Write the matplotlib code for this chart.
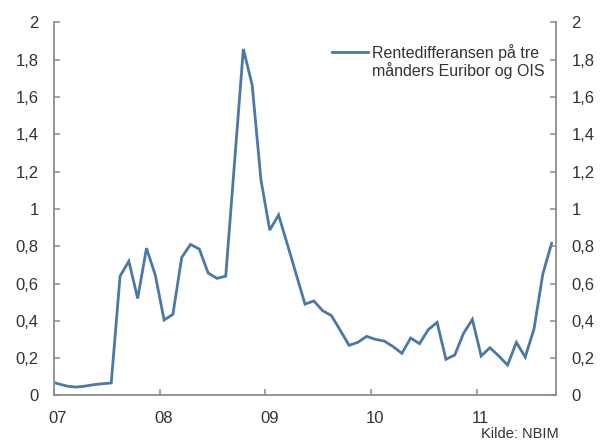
import matplotlib
matplotlib.use("Agg")
import matplotlib.pyplot as plt
from matplotlib.transforms import ScaledTranslation

plt.rcParams['font.family'] = ['Liberation Sans', 'DejaVu Sans']

# Months since Jan 2007 (mid-month positions) and spread in percentage points
months = [0.0, 1.5, 2.5, 3.5, 4.5, 5.5, 6.5,
          7.5, 8.5, 9.5, 10.5, 11.5, 12.5, 13.5, 14.5, 15.5, 16.5, 17.5, 18.5, 19.5,
          20.5, 21.5, 22.5, 23.5, 24.5, 25.5, 26.5, 27.5, 28.5, 29.5, 30.5, 31.5,
          32.5, 33.5, 34.5, 35.5, 36.5, 37.5, 38.5, 39.5, 40.5, 41.5, 42.5, 43.5,
          44.5, 45.5, 46.5, 47.5, 48.5, 49.5, 50.5, 51.5, 52.5, 53.5, 54.5, 55.5, 56.5]
spread = [0.069, 0.050, 0.045, 0.050, 0.058, 0.063, 0.067,
          0.640, 0.720, 0.520, 0.790, 0.646, 0.405, 0.435, 0.740, 0.810, 0.785, 0.657, 0.628, 0.640,
          1.250, 1.858, 1.665, 1.155, 0.887, 0.968, 0.810, 0.650, 0.490, 0.507, 0.455, 0.428,
          0.350, 0.269, 0.285, 0.317, 0.301, 0.292, 0.262, 0.226, 0.308, 0.278, 0.353, 0.392,
          0.194, 0.217, 0.333, 0.408, 0.212, 0.256, 0.212, 0.163, 0.285, 0.206, 0.356, 0.651, 0.816]

year_ticks = [0, 12, 24, 36, 48]
year_labels = ["07", "08", "09", "10", "11"]
y_ticks = [0, 0.2, 0.4, 0.6, 0.8, 1.0, 1.2, 1.4, 1.6, 1.8, 2.0]

label_line1 = "Rentedifferansen på tre"
label_line2 = "månders Euribor og OIS"

line_color = "#4a78a8"
axis_color = "#8c8c8c"
text_color = "#333333"

fig = plt.figure(figsize=(6.02, 4.41), dpi=100)
ax = fig.add_axes([0.0897, 0.1032, 0.8339, 0.8458])

ax.plot(months, spread, color=line_color, lw=2.0, label=label_line1,
        solid_joinstyle="miter")

ax.set_xlim(0, 57)
ax.set_ylim(0, 2)

def fmt(v):
    s = f"{v:.1f}".rstrip("0").rstrip(".")
    return s.replace(".", ",")

ax.set_yticks(y_ticks)
ax.set_yticklabels([fmt(v) for v in y_ticks])
ax.set_xticks(year_ticks)
ax.set_xticklabels(year_labels)

ax.spines['top'].set_visible(False)
for side in ('left', 'right', 'bottom'):
    ax.spines[side].set_color(axis_color)
    ax.spines[side].set_linewidth(1.3)

ax.tick_params(axis='y', direction='in', length=4, width=1.1, color=axis_color,
               labelsize=12, labelcolor=text_color, pad=11,
               left=True, right=True, labelleft=True, labelright=True)
ax.tick_params(axis='x', direction='in', length=4, width=1.1, color=axis_color,
               labelsize=12, labelcolor=text_color, pad=11)

# nudge year labels slightly to the right of their ticks
shift = ScaledTranslation(4 / 100, 0, fig.dpi_scale_trans)
for lbl in ax.get_xticklabels():
    lbl.set_transform(lbl.get_transform() + shift)

leg = ax.legend(loc='upper left', bbox_to_anchor=(0.5535, 0.943), frameon=False,
                fontsize=11.5, handlelength=2.25, handletextpad=0.25,
                labelcolor=text_color, borderaxespad=0, borderpad=0)

fig.text(559 / 602, 1 - 438 / 441, "Kilde: NBIM", ha='right', va='baseline',
         fontsize=10.5, color=text_color)

# second line of the legend label, placed under the first one
fig.canvas.draw()
W, H = fig.bbox.width, fig.bbox.height
bb = leg.get_texts()[0].get_window_extent()
fig.text(bb.x0 / W, (bb.y0 - 18.5) / H, label_line2, ha='left', va='bottom',
         fontsize=11.5, color=text_color)

fig.savefig("out.png", dpi=100)
